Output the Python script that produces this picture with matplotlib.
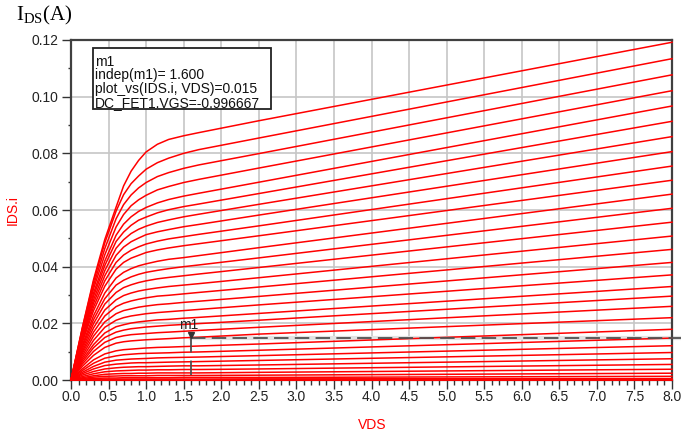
import matplotlib
matplotlib.use("Agg")
import matplotlib.pyplot as plt
import matplotlib.transforms as mtransforms
from matplotlib.ticker import MultipleLocator, FormatStrFormatter

# drain voltage sweep points (V)
vds = [0, 0.15, 0.3, 0.45, 0.6, 0.7, 0.8, 0.9, 1.0, 1.15, 1.3, 1.5, 1.7, 2.5, 8.0]

# drain current (A), one row per gate voltage step, highest VGS first
ids = [
    [0, .0184, .0354, .0496, .0610, .0685, .0737, .0775, .0805, .0832, .0849, .0862, .0873, .0915, .1192],
    [0, .0182, .0347, .0484, .0596, .0654, .0693, .0720, .0744, .0767, .0783, .0800, .0813, .0854, .1134],
    [0, .0177, .0334, .0464, .0569, .0619, .0653, .0678, .0697, .0718, .0732, .0747, .0759, .0799, .1077],
    [0, .0170, .0322, .0442, .0540, .0584, .0615, .0636, .0652, .0671, .0683, .0697, .0708, .0748, .1021],
    [0, .0163, .0307, .0420, .0511, .0550, .0576, .0595, .0609, .0625, .0637, .0649, .0659, .0698, .0967],
    [0, .0158, .0296, .0404, .0489, .0522, .0546, .0564, .0575, .0590, .0601, .0612, .0621, .0658, .0913],
    [0, .0152, .0283, .0386, .0465, .0495, .0517, .0532, .0543, .0556, .0565, .0576, .0585, .0620, .0859],
    [0, .0146, .0271, .0368, .0440, .0469, .0488, .0501, .0513, .0523, .0531, .0541, .0549, .0582, .0806],
    [0, .0139, .0258, .0350, .0415, .0441, .0458, .0470, .0480, .0490, .0498, .0506, .0514, .0544, .0755],
    [0, .0133, .0245, .0331, .0391, .0415, .0430, .0440, .0450, .0459, .0466, .0474, .0481, .0509, .0705],
    [0, .0123, .0227, .0307, .0360, .0380, .0393, .0403, .0410, .0419, .0426, .0432, .0439, .0467, .0656],
    [0, .0116, .0213, .0287, .0335, .0352, .0364, .0373, .0380, .0387, .0393, .0400, .0406, .0431, .0606],
    [0, .0108, .0199, .0268, .0309, .0326, .0336, .0344, .0350, .0357, .0362, .0368, .0374, .0397, .0557],
    [0, .0100, .0184, .0247, .0283, .0298, .0307, .0314, .0319, .0325, .0330, .0335, .0340, .0361, .0508],
    [0, .0093, .0169, .0226, .0259, .0271, .0279, .0285, .0290, .0296, .0299, .0304, .0309, .0328, .0461],
    [0, .0085, .0155, .0205, .0234, .0245, .0251, .0257, .0261, .0266, .0269, .0274, .0278, .0295, .0415],
    [0, .0077, .0140, .0186, .0211, .0220, .0226, .0230, .0234, .0238, .0241, .0245, .0249, .0265, .0371],
    [0, .0070, .0125, .0166, .0188, .0195, .0201, .0205, .0208, .0212, .0214, .0218, .0221, .0235, .0330],
    [0, .0063, .0114, .0150, .0169, .0176, .0181, .0184, .0187, .0190, .0193, .0196, .0199, .0211, .0296],
    [0, .0056, .0101, .0133, .0150, .0156, .0160, .0162, .0164, .0167, .0169, .0172, .0175, .0186, .0260],
    [0, .0048, .0087, .0115, .0130, .0135, .0138, .0140, .0142, .0144, .0146, .0149, .0151, .0162, .0220],
    [0, .0039, .0071, .0092, .0103, .0107, .0109, .0111, .0113, .0115, .0116, .0118, .0120, .0127, .0179],
    [0, .0033, .0059, .0077, .0085, .0089, .0091, .0093, .0094, .0095, .0096, .0098, .0099, .0105, .0148],
    [0, .0027, .0048, .0063, .0070, .0072, .0074, .0075, .0076, .0078, .0079, .0080, .0081, .0086, .0121],
    [0, .0022, .0039, .0051, .0056, .0058, .0060, .0061, .0061, .0062, .0063, .0064, .0065, .0069, .0097],
    [0, .0017, .0030, .0039, .0043, .0045, .0046, .0047, .0047, .0048, .0049, .0050, .0050, .0053, .0075],
    [0, .0012, .0022, .0029, .0032, .0033, .0034, .0035, .0035, .0036, .0036, .0037, .0037, .0039, .0055],
    [0, .0008, .0015, .0020, .0022, .0023, .0023, .0024, .0024, .0025, .0025, .0025, .0025, .0027, .0038],
    [0, .0005, .0010, .0013, .0014, .0015, .0015, .0015, .0015, .0016, .0016, .0016, .0016, .0017, .0024],
    [0, .0003, .0005, .0007, .0007, .0008, .0008, .0008, .0008, .0008, .0008, .0009, .0009, .0009, .0013],
    [0, .0001, .0002, .0003, .0003, .0003, .0003, .0003, .0003, .0003, .0003, .0003, .0003, .0004, .0005],
    [0, .0000, .0001, .0001, .0001, .0001, .0001, .0001, .0001, .0001, .0001, .0001, .0001, .0001, .0002],
    [0, 0, 0, 0, 0, 0, 0, 0, 0, 0, 0, 0, 0, 0, 0],
    [0, 0, 0, 0, 0, 0, 0, 0, 0, 0, 0, 0, 0, 0, 0],
]

# marker m1
m1_vds = 1.600
m1_ids = 0.015
m1_vgs = -0.996667

plt.rcParams["font.family"] = "Liberation Sans"
plt.rcParams["mathtext.fontset"] = "custom"
plt.rcParams["mathtext.rm"] = "Liberation Serif"

fig = plt.figure(figsize=(6.81, 4.36), dpi=100)
ax = fig.add_axes([71 / 681, 1 - 380 / 436, 601 / 681, 340 / 436])

for row in ids:
    ax.plot(vds, row, color="red", lw=1.1, clip_on=False, zorder=3)

ax.set_xlim(0, 8)
ax.set_ylim(0, 0.12)
ax.xaxis.set_major_locator(MultipleLocator(0.5))
ax.xaxis.set_minor_locator(MultipleLocator(0.1))
ax.yaxis.set_major_locator(MultipleLocator(0.02))
ax.yaxis.set_minor_locator(MultipleLocator(0.01))
ax.xaxis.set_major_formatter(FormatStrFormatter("%.1f"))
ax.yaxis.set_major_formatter(FormatStrFormatter("%.2f"))

ax.grid(which="major", color="#c6c6c6", lw=1.2)
ax.set_axisbelow(True)
ax.tick_params(which="major", length=6.5, width=1.0, color="#333333",
               labelsize=10, labelcolor="#222222")
ax.tick_params(axis="x", which="minor", length=3.5, width=1.0, color="#333333")
ax.tick_params(axis="y", which="minor", length=2.5, width=1.0, color="#333333")
ax.tick_params(axis="x", pad=1)
ax.tick_params(axis="y", pad=2.5)
for s in ax.spines.values():
    s.set_color("#404040")
    s.set_linewidth(1.6)

# marker: triangle, label and dashed guides
tri = mtransforms.offset_copy(ax.transData, fig=fig, x=0, y=3, units="dots")
ax.plot([m1_vds], [m1_ids], marker="v", ms=5, color="#333333",
        transform=tri, zorder=6, clip_on=False)
ax.annotate("m1", xy=(m1_vds, m1_ids), xytext=(-2, 4), textcoords="offset points",
            ha="center", va="bottom", fontsize=10, color="#222222", zorder=6)
ax.plot([m1_vds, 8.13], [m1_ids, m1_ids], color="#e2e2e2", lw=3.0,
        clip_on=False, zorder=2.5)
ax.plot([m1_vds, 8.13], [m1_ids, m1_ids], color="#505050", lw=1.3,
        dashes=(8, 3.5), clip_on=False, zorder=5)
ax.plot([m1_vds, m1_vds], [m1_ids, 0], color="#505050", lw=1.3,
        dashes=(8, 4.5), zorder=5)

# marker readout box
box = plt.Rectangle((93 / 681, 1 - 109 / 436), 178 / 681, 61 / 436,
                    transform=fig.transFigure, facecolor="white",
                    edgecolor="#222222", lw=1.3, zorder=10)
fig.patches.append(box)
readout = [
    "m1",
    f"indep(m1)= {m1_vds:.3f}",
    f"plot_vs(IDS.i, VDS)={m1_ids:.3f}",
    f"DC_FET1.VGS={m1_vgs}",
]
for i, line in enumerate(readout):
    fig.text(95 / 681, 1 - (61.5 + 13.8 * i) / 436, line, fontsize=10,
             color="#111111", va="center", ha="left", zorder=11)

fig.text(16 / 681, 1 - 20 / 436, r"$\mathrm{I_{DS}(A)}$", fontsize=15,
         va="baseline", ha="left")
fig.text(13 / 681, 1 - 210 / 436, "IDS.i", rotation=90, color="red",
         fontsize=10, va="center", ha="center")
fig.text(372 / 681, 1 - 425 / 436, "VDS", color="red", fontsize=10,
         va="center", ha="center")

fig.savefig("out.png", dpi=100)
